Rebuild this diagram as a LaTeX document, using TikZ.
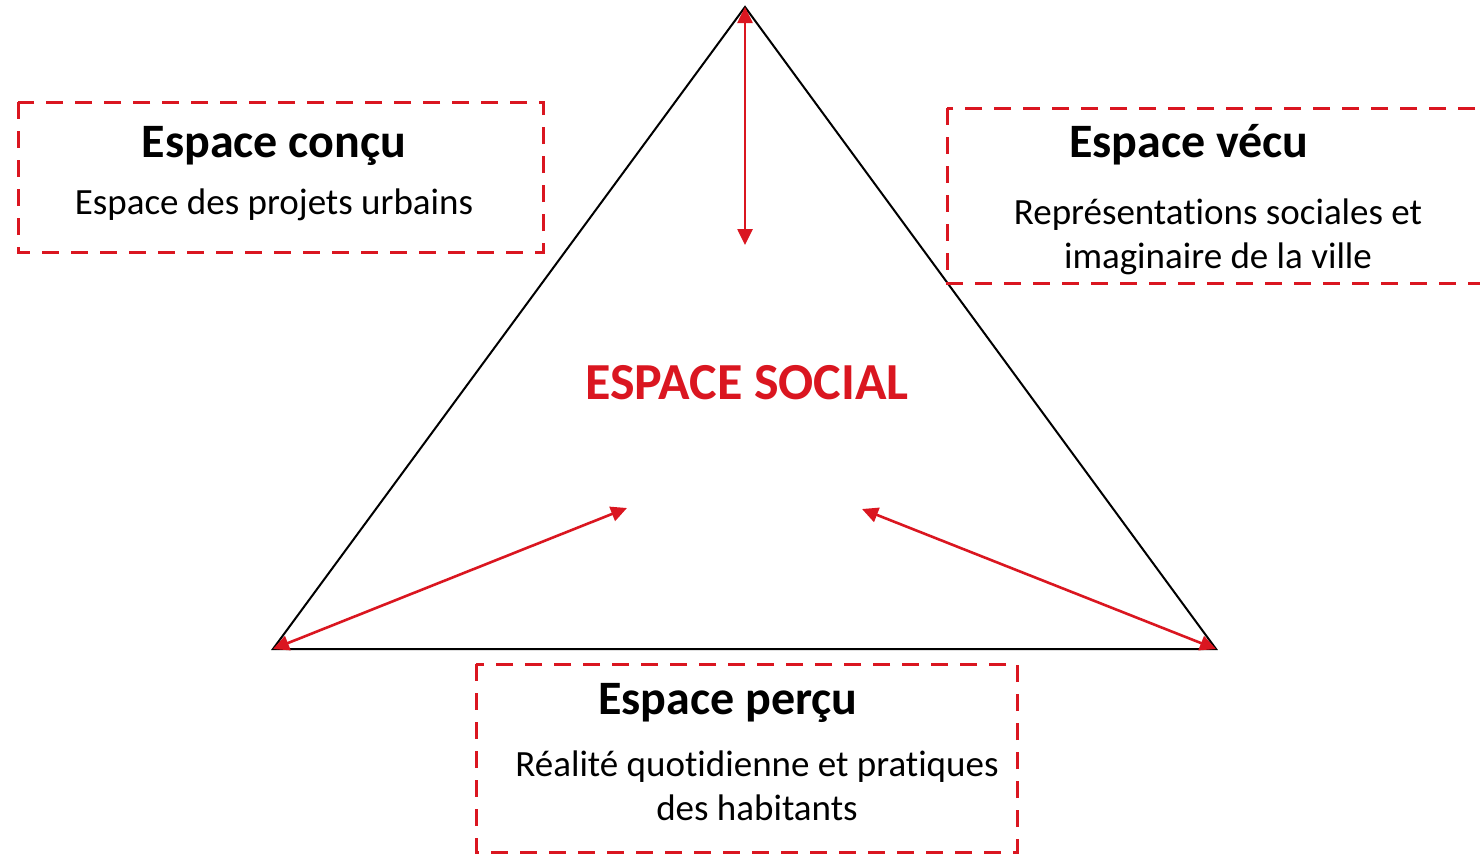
\documentclass[tikz,border=0pt]{standalone}
\usepackage{fontspec}
\setmainfont{Carlito}[Ligatures=NoCommon]
\usetikzlibrary{arrows.meta}
\definecolor{socialRed}{RGB}{218,22,32}
\tikzstyle{diagram} = [x=0.5pt, y=-0.5pt]
\tikzstyle{triangleLine} = [black, line width=1pt, line join=miter]
\tikzstyle{linkArrow} = [socialRed, line width=1.3pt, {Triangle[length=8pt,width=7.5pt]}-{Triangle[length=8pt,width=7.5pt]}]
\tikzstyle{dashedBox} = [socialRed, line width=1.5pt, dash pattern=on 8.5pt off 6pt]
\tikzstyle{boxTitle} = [font=\fontsize{24}{28}\selectfont\bfseries, anchor=base, inner sep=0pt]
\tikzstyle{boxText} = [font=\fontsize{18.5}{22}\selectfont, anchor=base, inner sep=0pt, align=center]
\tikzstyle{socialText} = [font=\fontsize{26}{30}\selectfont\bfseries, color=socialRed, anchor=base, inner sep=0pt]
\newcommand{\spaceBox}[4]{\draw [dashedBox] (#1,#2) rectangle (#3,#4);}

\begin{document}
\begin{tikzpicture}[diagram]
    \useasboundingbox (0,0) rectangle (1480,853);
    % triangle
    \coordinate (apex) at (745,7);
    \coordinate (leftCorner) at (273,649);
    \coordinate (rightCorner) at (1216,649);
    \draw [triangleLine] (apex) -- (leftCorner) -- (rightCorner) -- cycle;
    % arrows towards the middle
    \coordinate (topEnd) at (745,245);
    \coordinate (leftEnd) at (627,508);
    \coordinate (rightEnd) at (862,509);
    \draw [linkArrow] (apex) -- (topEnd);
    \draw [linkArrow] (leftCorner) -- (leftEnd);
    \draw [linkArrow] (rightCorner) -- (rightEnd);
    \node [socialText] (social) at (747,399) {ESPACE SOCIAL};
    % boxes
    \spaceBox{18}{102}{543}{252}
    \node [boxTitle] (conceivedTitle) at (274,157) {Espace conçu};
    \node [boxText] (conceivedText) at (274,214) {Espace des projets urbains};
    \spaceBox{947}{108}{1500}{283}
    \node [boxTitle] (livedTitle) at (1189,157) {Espace vécu};
    \node [boxText] (livedText) at (1218,268) {Représentations sociales et\\imaginaire de la ville};
    \spaceBox{476}{664}{1017}{852}
    \node [boxTitle] (perceivedTitle) at (728,714) {Espace perçu};
    \node [boxText] (perceivedText) at (757,820) {Réalité quotidienne et pratiques\\des habitants};
\end{tikzpicture}
\end{document}
